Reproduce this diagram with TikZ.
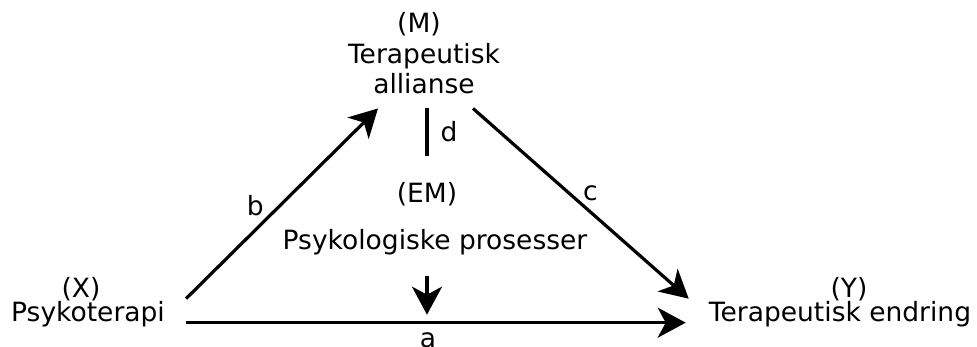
\documentclass[tikz,border=0pt]{standalone}
\usepackage{fontspec}
\setmainfont{DejaVu Sans}
\usetikzlibrary{arrows.meta,positioning}
\tikzset{
  arr/.style={line width=3.2pt,-{Stealth[length=28pt,width=30pt,inset=8pt]}},
  ln/.style={line width=3.2pt},
  txt/.style={font=\fontsize{26.5}{30}\selectfont, inner sep=0pt},
  lbl/.style={font=\fontsize{26.5}{30}\selectfont, inner sep=0pt}
}
\begin{document}
\begin{tikzpicture}[x=1pt,y=-1pt]
    \useasboundingbox (0,0) rectangle (977,347);
    \node[txt,anchor=base] (X) at (88,322) {Psykoterapi};
    \node[txt,anchor=base] (Xl) at (81,298) {(X)};
    \node[txt,align=center] (M) at (424,69) {Terapeutisk\\allianse};
    \node[txt,anchor=base] (Ml) at (419,33) {(M)};
    \node[txt,anchor=base] (Y) at (840,322) {Terapeutisk endring};
    \node[txt,anchor=base] (Yl) at (849,298) {(Y)};
    \node[txt,anchor=base] (EM) at (427,203) {(EM)};
    \node[txt,anchor=base] (P) at (435,250) {Psykologiske prosesser};
    \draw[arr] ([xshift=21pt,yshift=16pt]X.east) -- node[lbl,pos=0.42,above left=2pt] {b} ([xshift=-46pt,yshift=-14pt]M.south);
    \draw[arr] ([xshift=49pt,yshift=-14pt]M.south) -- node[lbl,pos=0.5,above right=1pt] {c} ([xshift=-20pt,yshift=16pt]Y.west);
    \draw[arr] ([xshift=21pt,yshift=-8pt]X.east) -- node[lbl,pos=0.484,below=8pt] {a} ([xshift=-23pt,yshift=-8pt]Y.west);
    \draw[ln] ([yshift=-14pt]M.south -| EM) -- node[lbl,right=12pt] {d} ([yshift=27pt]EM.north);
    \draw[arr] ([yshift=-20pt]P.south -| EM) -- (EM |- X.east);
\end{tikzpicture}
\end{document}
